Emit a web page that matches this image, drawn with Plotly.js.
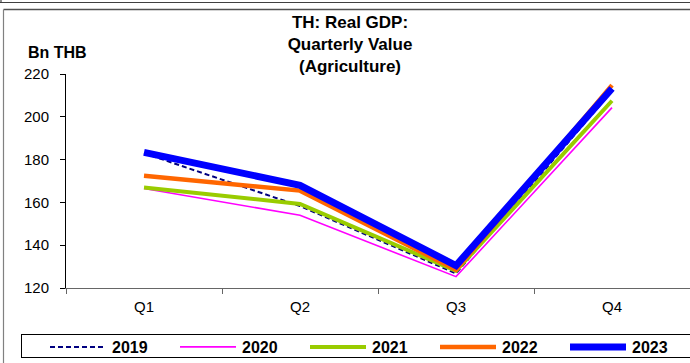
<!DOCTYPE html>
<html>
<head>
<meta charset="utf-8">
<script src="https://cdn.plot.ly/plotly-3.0.1.min.js"></script>
<style>html,body{margin:0;padding:0;background:#fff;}#chart{width:690px;height:363px;}</style>
</head>
<body>
<div id="chart"></div>
<script>
var quarters = ["Q1", "Q2", "Q3", "Q4"];
var v2019 = [183, 158.3, 126.8, 212];
var v2020 = [166.5, 154, 125.3, 204.3];
var v2021 = [167, 159.3, 128, 207.5];
var v2022 = [172.4, 165.5, 128.6, 214.8];
var v2023 = [183.4, 168, 130.5, 213.2];
var yTicks = [120, 140, 160, 180, 200, 220];

var FONT = "Liberation Sans, Arial, sans-serif";
var L = 66, R = 0, T = 74, B = 75, W = 690, H = 363;
var pw = W - L - R, ph = H - T - B;
function px(x){ return (x - L) / pw; }
function py(y){ return (H - B - y) / ph; }

function tr(name, y, color, width, dash){
  return {type:"scatter", mode:"lines", name:name, x:quarters, y:y,
    line:{color:color, width:width, dash:dash||"solid"}, hoverinfo:"skip"};
}
var data = [
  tr("2019", v2019, "#000080", 2, "5px,3px"),
  tr("2020", v2020, "#FF00FF", 1.6),
  tr("2021", v2021, "#99CC00", 4),
  tr("2022", v2022, "#FF6600", 4.5),
  tr("2023", v2023, "#0000FF", 7)
];

var layout = {
  width:W, height:H,
  margin:{l:L, r:R, t:T, b:B, pad:0, autoexpand:false},
  paper_bgcolor:"#ffffff", plot_bgcolor:"#ffffff",
  font:{family:FONT, color:"#000000", size:15},
  showlegend:true,
  title:{text:"TH: Real GDP:<br>Quarterly Value<br>(Agriculture)",
    font:{family:FONT, size:17, weight:"bold", color:"#000"},
    xref:"container", yref:"container", x:350/690, xanchor:"center",
    y:1-28/363, yanchor:"top"},
  xaxis:{type:"category", range:[-0.5, 3.5], showgrid:false, zeroline:false,
    showline:true, linecolor:"#666666", linewidth:1, automargin:false,
    ticks:"outside", tickson:"boundaries", ticklen:5, tickcolor:"#666666",
    tickfont:{family:FONT, size:15}, ticklabelstandoff:5},
  yaxis:{range:[120, 220], tickvals:yTicks, ticktext:yTicks.map(String), automargin:false,
    showgrid:false, zeroline:false, showline:true, linecolor:"#000", linewidth:1,
    ticks:"outside", ticklen:5, tickcolor:"#000",
    tickfont:{family:FONT, size:15}, ticklabelstandoff:8},
  legend:{orientation:"h", xref:"paper", yref:"paper",
    x:px(21), xanchor:"left", y:py(329), yanchor:"top",
    bordercolor:"#000", borderwidth:1, bgcolor:"#fff",
    font:{family:FONT, size:16, weight:"bold"}, itemwidth:80, entrywidth:35, entrywidthmode:"pixels",
    itemclick:false, itemdoubleclick:false},
  annotations:[
    {text:"Bn THB", xref:"paper", yref:"paper", x:px(26), y:py(52), xanchor:"left", yanchor:"middle",
     showarrow:false, font:{family:FONT, size:16, weight:"bold"}}
  ],
  shapes:[
    {type:"line", xref:"paper", yref:"paper", x0:px(0), x1:px(700), y0:py(2.5), y1:py(2.5), line:{color:"#404040", width:1.2}},
    {type:"line", xref:"paper", yref:"paper", x0:px(1), x1:px(1), y0:py(-5), y1:py(2.5), line:{color:"#404040", width:1.2}},
    {type:"line", xref:"paper", yref:"paper", x0:px(3.5), x1:px(700), y0:py(9.5), y1:py(9.5), line:{color:"#505050", width:1.5}},
    {type:"line", xref:"paper", yref:"paper", x0:px(3.5), x1:px(3.5), y0:py(9.5), y1:py(400), line:{color:"#808080", width:1.2}}
  ]
};
Plotly.newPlot("chart", data, layout, {staticPlot:true, displayModeBar:false}).then(function(gd){
  var items = gd.querySelectorAll(".legend .traces");
  items.forEach(function(it){
    var t = it.querySelector("text.legendtext");
    var p = it.querySelector(".legendlines path");
    if (t && p) {
      var tx = parseFloat(t.getAttribute("x"));
      p.setAttribute("d", "M" + (tx - 62) + ",0h56");
    }
  });
  var lg = gd.querySelector("g.legend");
  var bg = gd.querySelector(".legend rect.bg");
  if (lg && bg) {
    var m = /translate\(\s*([-\d.]+)[ ,]+([-\d.]+)/.exec(lg.getAttribute("transform") || "");
    var ty = m ? parseFloat(m[2]) : 329;
    bg.setAttribute("y", 334 - ty);
    bg.setAttribute("height", 23);
    bg.setAttribute("width", W);
  }
});
</script>
</body>
</html>
